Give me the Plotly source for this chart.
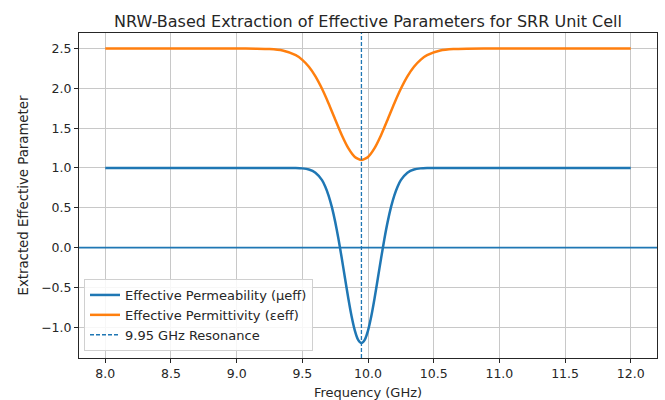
import plotly.graph_objects as go

# Values
freq_mu = [8.0, 8.5, 9.0, 9.35, 9.45, 9.5, 9.55, 9.6, 9.65, 9.675, 9.7, 9.725, 9.75, 9.775,
           9.8, 9.825, 9.85, 9.875, 9.9, 9.925, 9.95, 9.975, 10.0, 10.025, 10.05, 10.075,
           10.1, 10.125, 10.15, 10.175, 10.2, 10.225, 10.25, 10.3, 10.35, 10.4, 10.45,
           10.55, 11.0, 11.5, 12.0]
mu_eff = [1.0, 1.0, 1.0, 1.0, 0.999, 0.995, 0.981, 0.941, 0.847, 0.765, 0.654, 0.508, 0.326, 0.111,
          -0.131, -0.386, -0.637, -0.863, -1.043, -1.160, -1.2, -1.160, -1.043, -0.863, -0.637, -0.386,
          -0.131, 0.111, 0.326, 0.508, 0.654, 0.765, 0.847, 0.941, 0.981, 0.995, 0.999,
          1.0, 1.0, 1.0, 1.0]

freq_eps = [8.0, 8.5, 9.0, 9.15, 9.25, 9.35, 9.45, 9.5, 9.55, 9.6, 9.65, 9.7, 9.75, 9.8,
            9.85, 9.9, 9.95, 10.0, 10.05, 10.1, 10.15, 10.2, 10.25, 10.3, 10.35, 10.4,
            10.45, 10.55, 10.65, 10.75, 11.0, 11.5, 12.0]
eps_eff = [2.5, 2.5, 2.5, 2.499, 2.495, 2.476, 2.418, 2.359, 2.272, 2.151, 1.995, 1.811, 1.610, 1.415,
           1.250, 1.139, 1.1, 1.139, 1.250, 1.415, 1.610, 1.811, 1.995, 2.151, 2.272, 2.359,
           2.418, 2.476, 2.495, 2.499, 2.5, 2.5, 2.5]

resonance = 9.95
x_ticks = [8.0, 8.5, 9.0, 9.5, 10.0, 10.5, 11.0, 11.5, 12.0]
y_ticks = [-1.0, -0.5, 0.0, 0.5, 1.0, 1.5, 2.0, 2.5]

BLUE = "#1f77b4"
ORANGE = "#ff7f0e"
FONT = "DejaVu Sans"
TXT = "#262626"

Y_RANGE = [-1.3875, 2.696]
M_L, M_R, M_T, M_B = 79, 8, 33, 42
PLOT_H = 400 - M_T - M_B
PLOT_W = 665 - M_L - M_R

fig = go.Figure()
fig.add_trace(go.Scatter(x=freq_mu, y=mu_eff, mode="lines", name="Effective Permeability (μeff)",
                         line=dict(color=BLUE, width=2.5, shape="spline", smoothing=0.6)))
fig.add_trace(go.Scatter(x=freq_eps, y=eps_eff, mode="lines", name="Effective Permittivity (εeff)",
                         line=dict(color=ORANGE, width=2.5, shape="spline", smoothing=0.6)))
fig.add_trace(go.Scatter(x=[resonance, resonance], y=Y_RANGE, mode="lines",
                         name="9.95 GHz Resonance",
                         line=dict(color=BLUE, width=1.3, dash="4px,2px")))
fig.add_hline(y=0, line=dict(color=BLUE, width=1.7))

axis_common = dict(showline=True, linecolor=TXT, linewidth=1, mirror=True,
                   ticks="outside", ticklen=4, tickcolor=TXT,
                   showgrid=True, gridcolor="#c8c8c8", gridwidth=1, zeroline=False,
                   tickfont=dict(family=FONT, size=12.5, color=TXT))

fig.update_xaxes(range=[7.8, 12.2], tickvals=x_ticks, ticktext=[f"{v:.1f}" for v in x_ticks],
                 **axis_common)
fig.update_yaxes(range=Y_RANGE, tickvals=y_ticks,
                 ticktext=[("\u2212" if v < 0 else "") + f"{abs(v):.1f}" for v in y_ticks],
                 **axis_common)

# axis titles as annotations for precise placement
bottom_px = 400 - M_B
fig.add_annotation(text="Frequency (GHz)", xref="paper", yref="paper",
                   x=0.5, y=-(392.5 - bottom_px) / PLOT_H, xanchor="center", yanchor="middle",
                   showarrow=False, font=dict(family=FONT, size=13, color=TXT))
fig.add_annotation(text="Extracted Effective Parameter", xref="paper", yref="paper",
                   x=(23 - M_L) / PLOT_W, y=0.5, xanchor="center", yanchor="middle", textangle=-90,
                   showarrow=False, font=dict(family=FONT, size=13.3, color=TXT))

fig.update_layout(
    width=665, height=400,
    margin=dict(l=M_L, r=M_R, t=M_T, b=M_B),
    plot_bgcolor="white", paper_bgcolor="white",
    title=dict(text="NRW-Based Extraction of Effective Parameters for SRR Unit Cell",
               font=dict(family=FONT, size=16, color=TXT),
               x=(M_L + 665 - M_R) / 2 / 665, xanchor="center", y=1 - 21 / 400, yanchor="middle"),
    legend=dict(x=(84 - M_L) / PLOT_W, y=7 / PLOT_H, xanchor="left", yanchor="bottom",
                bgcolor="rgba(255,255,255,0.85)", bordercolor="#d0d0d0", borderwidth=1,
                font=dict(family=FONT, size=13, color=TXT), tracegroupgap=0,
                itemwidth=30),
    showlegend=True,
)

fig.write_html("out.html")
